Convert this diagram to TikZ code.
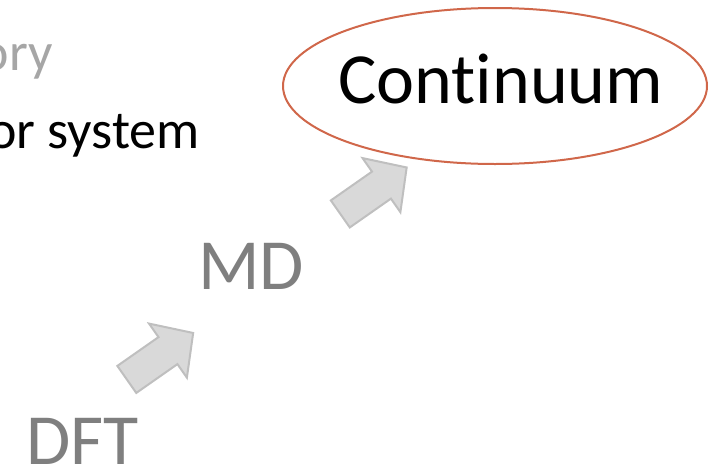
\documentclass[tikz,border=0pt]{standalone}
\usepackage{fontspec}
\setmainfont{Carlito}[Ligatures=NoCommon]
\usetikzlibrary{shapes.arrows}
\definecolor{labelgray}{HTML}{7F7F7F}
\definecolor{lightgray}{HTML}{A6A6A6}
\definecolor{arrowfill}{HTML}{D9D9D9}
\definecolor{arrowline}{HTML}{BFBFBF}
\definecolor{ringred}{HTML}{D0674A}
\tikzset{
  scale label/.style = {text=labelgray, font=\fontsize{72}{86}\selectfont, inner sep=0pt, anchor=base west},
  side text/.style = {font=\fontsize{54}{64}\selectfont, inner sep=0pt, anchor=base east},
  step arrow/.style = {
    single arrow, draw=arrowline, fill=arrowfill, line width=2pt,
    inner xsep=0pt, inner ysep=15.5pt, minimum width=64pt, minimum height=81pt,
    single arrow head extend=16.5pt, single arrow tip angle=94,
    anchor=tail, rotate=35
  }
}

\begin{document}
\begin{tikzpicture}[x=1pt, y=-1pt]
  \useasboundingbox (0,0) rectangle (725,469);

  % Cut off text on the left
  \node[side text, text=lightgray] (theory) at (53,70) {ory};
  \node[side text] (system) at (200,148) {or system};

  % Scales
  \node[scale label] (dft) at (26,464) {DFT};
  \node[scale label] (md) at (198,289) {MD};
  \node[scale label, text=black] (continuum) at (338,103) {Continuum};
  \draw[ringred, line width=2pt] (495,86) ellipse (212 and 78);

  % Steps
  \node[step arrow] (dftmd) at (126,380) {};
  \node[step arrow] (mdcont) at (339.5,214.5) {};

\end{tikzpicture}
\end{document}
